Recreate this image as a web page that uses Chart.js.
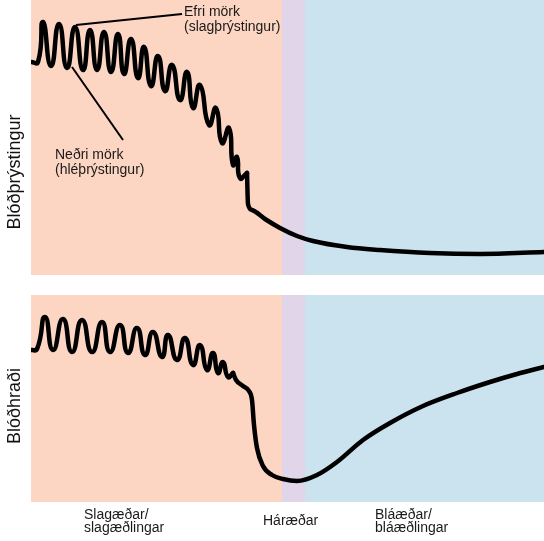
<!DOCTYPE html>
<html><head><meta charset="utf-8">
<script src="https://cdn.jsdelivr.net/npm/chart.js@4"></script>
<style>
html,body{margin:0;padding:0;background:#fff;width:544px;height:541px;overflow:hidden}
#c1{position:absolute;left:0;top:0}
#c2{position:absolute;left:0;top:295px}
</style></head><body>
<canvas id="c1" width="544" height="275"></canvas>
<canvas id="c2" width="544" height="246"></canvas>
<script>
// Regions along the vessel tree (arbitrary distance units)
const regionEdges = [0, 251, 274, 513];
const regionLabels = [['Slagæðar/', 'slagæðlingar'], 'Háræðar', ['Bláæðar/', 'bláæðlingar']];
const regionLabelStart = [53, 232, 344];

// Blood pressure (arbitrary units): pulsatile part, then steady part
const pressurePulseX = [0, 7, 12, 20, 28, 36, 44, 52, 59, 66, 73, 80, 87, 93, 100, 107, 113, 120, 127, 134, 141, 149, 156, 162, 169, 178, 185, 191, 198, 202, 206, 209, 216];
const pressurePulseY = [213, 213, 253, 209, 251, 207, 248, 205, 245, 205, 243, 203, 241, 201, 236, 197, 228, 189, 219, 184, 210, 175, 203, 167, 190, 150, 167, 132, 147, 110, 118, 97, 102];
const pressureSteadyX = [216, 217, 221, 234, 249, 266, 282, 316, 349, 399, 449, 513];
const pressureSteadyY = [102, 71, 65, 56, 47, 39, 34, 28, 25, 22, 21, 23];

// Blood velocity (arbitrary units): pulsatile part, then steady part
const velocityPulseX = [0, 6, 14, 22, 32, 41, 51, 61, 71, 79, 89, 97, 106, 114, 122, 131, 137, 146, 154, 162, 169, 176, 182, 187, 192, 197, 202];
const velocityPulseY = [152, 153, 185, 152, 183, 150, 182, 150, 180, 150, 177, 149, 174, 147, 170, 145, 167, 142, 164, 137, 157, 132, 149, 129, 140, 125, 129];
const velocitySteadyX = [202, 205, 212, 218, 221, 223, 226, 232, 241, 252, 266, 286, 306, 332, 359, 392, 426, 459, 486, 513];
const velocitySteadyY = [129, 122, 116, 111, 102, 77, 54, 36, 27, 23, 21, 27, 40, 62, 79, 96, 109, 120, 128, 135];

// Leader lines for the annotations
const upperLeaderX = [45, 151];
const upperLeaderY = [250, 261];
const lowerLeaderX = [41, 92];
const lowerLeaderY = [208, 135];

const upperNote = ['Efri mörk', '(slagþrýstingur)'];
const lowerNote = ['Neðri mörk', '(hléþrýstingur)'];
const yTitles = ['Blóðþrýstingur', 'Blóðhraði'];

const FONT = '"Liberation Sans", Arial, sans-serif';
const bandColors = ['#FCD5C3', '#E1D5E9', '#CBE2EF'];
const pts = (xs, ys) => xs.map((v, i) => ({x: v, y: ys[i]}));

const bands = {
  id: 'bands',
  beforeDatasetsDraw(chart) {
    const {ctx, chartArea: a, scales: {x}} = chart;
    ctx.save();
    for (let i = 0; i < bandColors.length; i++) {
      const l = Math.round(x.getPixelForValue(regionEdges[i]));
      const r = Math.round(x.getPixelForValue(regionEdges[i + 1]));
      ctx.fillStyle = bandColors[i];
      ctx.fillRect(l, a.top, r - l, a.bottom - a.top);
    }
    ctx.restore();
  }
};

const texts = {
  id: 'texts',
  afterDraw(chart, args, opts) {
    const {ctx, scales: {x, y}} = chart;
    ctx.save();
    ctx.fillStyle = '#1a1a1a';
    ctx.textBaseline = 'middle';
    ctx.textAlign = 'left';
    ctx.font = '14px ' + FONT;
    (opts.notes || []).forEach(n => {
      n.lines.forEach((t, i) => ctx.fillText(t, x.getPixelForValue(n.x), y.getPixelForValue(n.y) + i * 15.5));
    });
    ctx.translate(opts.titleX, y.getPixelForValue(opts.titleY));
    ctx.rotate(-Math.PI / 2);
    ctx.textAlign = 'center';
    ctx.fillStyle = '#111';
    ctx.font = '18px ' + FONT;
    ctx.fillText(opts.title, 0, 0);
    ctx.restore();
  }
};

const pulse = (data) => ({
  data, borderColor: '#000', borderWidth: 4.5, pointRadius: 0,
  cubicInterpolationMode: 'default', tension: 0.6,
  borderCapStyle: 'round', borderJoinStyle: 'round', fill: false
});
const steady = (data) => ({
  data, borderColor: '#000', borderWidth: 4.5, pointRadius: 0,
  cubicInterpolationMode: 'monotone',
  borderCapStyle: 'round', borderJoinStyle: 'round', fill: false
});
const leader = (data) => ({
  data, borderColor: '#000', borderWidth: 2, pointRadius: 0, tension: 0, fill: false
});

new Chart(document.getElementById('c1'), {
  type: 'line',
  data: {datasets: [
    pulse(pts(pressurePulseX, pressurePulseY)),
    steady(pts(pressureSteadyX, pressureSteadyY)),
    leader(pts(upperLeaderX, upperLeaderY)),
    leader(pts(lowerLeaderX, lowerLeaderY))
  ]},
  options: {
    responsive: false, animation: false, events: [],
    layout: {padding: {left: 31, top: 0, right: 0, bottom: 0}},
    plugins: {
      legend: {display: false}, tooltip: {enabled: false},
      texts: {
        notes: [{x: 153, y: 263, lines: upperNote}, {x: 24, y: 120, lines: lowerNote}],
        title: yTitles[0], titleX: 15, titleY: 103
      }
    },
    scales: {
      x: {type: 'linear', min: 0, max: 513, display: false},
      y: {type: 'linear', min: 0, max: 275, display: false}
    }
  },
  plugins: [bands, texts]
});

new Chart(document.getElementById('c2'), {
  type: 'line',
  data: {datasets: [
    pulse(pts(velocityPulseX, velocityPulseY)),
    steady(pts(velocitySteadyX, velocitySteadyY))
  ]},
  options: {
    responsive: false, animation: false, events: [],
    layout: {padding: {left: 31, top: 0, right: 0, bottom: 0}},
    plugins: {
      legend: {display: false}, tooltip: {enabled: false},
      texts: {notes: [], title: yTitles[1], titleX: 15, titleY: 96}
    },
    scales: {
      x: {
        type: 'linear', min: 0, max: 513, display: true,
        grid: {display: false, drawTicks: false}, border: {display: false},
        afterBuildTicks: s => { s.ticks = regionLabelStart.map(v => ({value: v})); },
        afterFit: s => { s.height = 39; },
        ticks: {
          align: 'start', crossAlign: 'center', padding: 13, autoSkip: false,
          maxRotation: 0, minRotation: 0, color: '#1a1a1a',
          font: {family: FONT, size: 14, lineHeight: '13px'},
          callback: (v, i) => regionLabels[i]
        }
      },
      y: {type: 'linear', min: 0, max: 207, display: false}
    }
  },
  plugins: [bands, texts]
});
</script>
</body></html>
